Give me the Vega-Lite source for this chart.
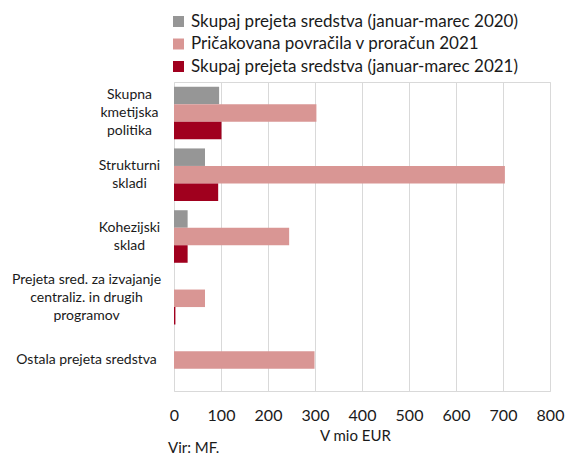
{
  "$schema": "https://vega.github.io/schema/vega-lite/v6.json",
  "width": 376,
  "height": 309,
  "autosize": {"type": "none"},
  "padding": {"left": 174, "top": 82, "right": 16, "bottom": 63},
  "background": "white",
  "config": {"font": "Lato", "view": {"stroke": "#d9d9d9", "strokeWidth": 1}},
  "title": {"text": "Vir: MF.", "orient": "bottom", "anchor": "start", "frame": "group", "fontSize": 15, "fontWeight": "normal", "color": "#1a1a1a", "dx": -6, "dy": -3, "offset": 1},
  "data": {"values": [
    {"category": "Skupna|kmetijska|politika", "series": "Skupaj prejeta sredstva (januar-marec 2020)", "value": 96},
    {"category": "Skupna|kmetijska|politika", "series": "Pričakovana povračila v proračun 2021", "value": 303},
    {"category": "Skupna|kmetijska|politika", "series": "Skupaj prejeta sredstva (januar-marec 2021)", "value": 101},
    {"category": "Strukturni|skladi", "series": "Skupaj prejeta sredstva (januar-marec 2020)", "value": 66},
    {"category": "Strukturni|skladi", "series": "Pričakovana povračila v proračun 2021", "value": 704},
    {"category": "Strukturni|skladi", "series": "Skupaj prejeta sredstva (januar-marec 2021)", "value": 94},
    {"category": "Kohezijski|sklad", "series": "Skupaj prejeta sredstva (januar-marec 2020)", "value": 29},
    {"category": "Kohezijski|sklad", "series": "Pričakovana povračila v proračun 2021", "value": 245},
    {"category": "Kohezijski|sklad", "series": "Skupaj prejeta sredstva (januar-marec 2021)", "value": 29},
    {"category": "Prejeta sred. za izvajanje|centraliz. in drugih|programov", "series": "Skupaj prejeta sredstva (januar-marec 2020)", "value": 0},
    {"category": "Prejeta sred. za izvajanje|centraliz. in drugih|programov", "series": "Pričakovana povračila v proračun 2021", "value": 66},
    {"category": "Prejeta sred. za izvajanje|centraliz. in drugih|programov", "series": "Skupaj prejeta sredstva (januar-marec 2021)", "value": 3},
    {"category": "Ostala prejeta sredstva", "series": "Skupaj prejeta sredstva (januar-marec 2020)", "value": 0},
    {"category": "Ostala prejeta sredstva", "series": "Pričakovana povračila v proračun 2021", "value": 299},
    {"category": "Ostala prejeta sredstva", "series": "Skupaj prejeta sredstva (januar-marec 2021)", "value": 0}
  ]},
  "mark": {"type": "bar"},
  "encoding": {
    "y": {
      "field": "category", "type": "nominal",
      "sort": ["Skupna|kmetijska|politika", "Strukturni|skladi", "Kohezijski|sklad", "Prejeta sred. za izvajanje|centraliz. in drugih|programov", "Ostala prejeta sredstva"],
      "scale": {"paddingInner": 0.15, "paddingOuter": 0.075},
      "axis": {
        "title": null, "ticks": false, "tickSize": 0, "domain": false, "grid": false,
        "labelFontSize": 14, "labelLineHeight": 18, "labelColor": "#1a1a1a", "labelLimit": 300,
        "labelAlign": "center",
        "labelPadding": {"condition": {"test": "datum.value == 'Ostala prejeta sredstva' || indexof(datum.value, 'Prejeta') == 0", "value": 88}, "value": 45},
        "labelOffset": {"condition": [
          {"test": "length(split(datum.value, '|')) == 3", "value": -18},
          {"test": "length(split(datum.value, '|')) == 2", "value": -9}
        ], "value": 0},
        "labelExpr": "split(datum.label, '|')"
      }
    },
    "yOffset": {
      "field": "series", "type": "nominal",
      "sort": ["Skupaj prejeta sredstva (januar-marec 2020)", "Pričakovana povračila v proračun 2021", "Skupaj prejeta sredstva (januar-marec 2021)"],
      "scale": {"paddingInner": 0, "paddingOuter": 0}
    },
    "x": {
      "field": "value", "type": "quantitative",
      "scale": {"domain": [0, 800], "nice": false},
      "axis": {
        "values": [0, 100, 200, 300, 400, 500, 600, 700, 800],
        "title": "V mio EUR", "titleFontSize": 15, "titleFontWeight": "normal", "titleColor": "#1a1a1a", "titlePadding": 5, "titleX": 181,
        "labelFontSize": 16, "labelColor": "#1a1a1a", "labelPadding": 16, "labelFlush": false,
        "ticks": false, "domain": false, "gridColor": "#d9d9d9", "gridWidth": 1
      }
    },
    "color": {
      "field": "series", "type": "nominal",
      "scale": {
        "domain": ["Skupaj prejeta sredstva (januar-marec 2020)", "Pričakovana povračila v proračun 2021", "Skupaj prejeta sredstva (januar-marec 2021)"],
        "range": ["#969696", "#d99694", "#a0001e"]
      },
      "legend": {
        "title": null, "orient": "none", "legendX": -4, "legendY": -69, "direction": "vertical",
        "symbolType": "square", "symbolSize": 121, "symbolStrokeWidth": 0,
        "labelFontSize": 17, "labelColor": "#1a1a1a", "labelLimit": 500, "labelOffset": 4, "rowPadding": 4.5
      }
    }
  }
}
